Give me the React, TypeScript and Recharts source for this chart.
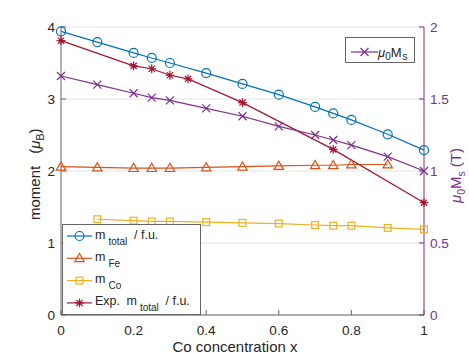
import React from 'react';
import { LineChart, Line, XAxis, YAxis, CartesianGrid, Legend } from 'recharts';

// ---- data ----
const xTotal = [0, 0.1, 0.2, 0.25, 0.3, 0.4, 0.5, 0.6, 0.7, 0.75, 0.8, 0.9, 1];
const mTotal = [3.94, 3.79, 3.64, 3.57, 3.5, 3.36, 3.21, 3.06, 2.89, 2.8, 2.71, 2.51, 2.29];

const xFe = [0, 0.1, 0.2, 0.25, 0.3, 0.4, 0.5, 0.6, 0.7, 0.75, 0.8, 0.9];
const mFe = [2.06, 2.05, 2.04, 2.04, 2.04, 2.05, 2.06, 2.07, 2.08, 2.08, 2.09, 2.09];

const xCo = [0.1, 0.2, 0.25, 0.3, 0.4, 0.5, 0.6, 0.7, 0.75, 0.8, 0.9, 1];
const mCo = [1.33, 1.31, 1.3, 1.3, 1.29, 1.28, 1.27, 1.25, 1.24, 1.24, 1.21, 1.19];

const xExp = [0, 0.2, 0.25, 0.3, 0.35, 0.5, 0.75, 1];
const mExp = [3.81, 3.46, 3.42, 3.33, 3.28, 2.95, 2.3, 1.56];

const xMs = [0, 0.1, 0.2, 0.25, 0.3, 0.4, 0.5, 0.6, 0.7, 0.75, 0.8, 0.9, 1];
const ms = [1.66, 1.6, 1.54, 1.51, 1.49, 1.435, 1.38, 1.31, 1.25, 1.215, 1.18, 1.1, 1.0];

const xTicks = [0, 0.2, 0.4, 0.6, 0.8, 1];
const leftTicks = [0, 1, 2, 3, 4];
const rightTicks = [0, 0.5, 1, 1.5, 2];

const xLabel = 'Co concentration x';

const pts = (xs: number[], ys: number[]) => xs.map((x, i) => ({ x, y: ys[i] }));
const dTotal = pts(xTotal, mTotal);
const dFe = pts(xFe, mFe);
const dCo = pts(xCo, mCo);
const dExp = pts(xExp, mExp);
const dMs = pts(xMs, ms);

// ---- style ----
const W = 469;
const H = 354;
const FONT = '"Liberation Sans", Arial, Helvetica, sans-serif';
const BLUE = '#0072BD';
const ORANGE = '#D95319';
const YELLOW = '#EDB120';
const PURPLE = '#7E2F8E';
const RED = '#A2142F';
const AX = '#666666';
const TXT = '#262626';
const LW = 1.2;

type MK = 'o' | '^' | 's' | '*' | 'x';

const Marker = ({ cx, cy, kind, color }: { cx: number; cy: number; kind: MK; color: string }) => {
  if (cx == null || cy == null) return null;
  if (kind === 'o') return <circle cx={cx} cy={cy} r={4.5} fill="none" stroke={color} strokeWidth={LW} />;
  if (kind === '^')
    return (
      <polygon
        points={`${cx},${cy - 4.8} ${cx - 4.7},${cy + 3.4} ${cx + 4.7},${cy + 3.4}`}
        fill="none"
        stroke={color}
        strokeWidth={LW}
      />
    );
  if (kind === 's')
    return <rect x={cx - 3.4} y={cy - 3.4} width={6.8} height={6.8} fill="none" stroke={color} strokeWidth={LW} />;
  if (kind === 'x') {
    const a = 4;
    return (
      <path d={`M${cx - a},${cy - a}L${cx + a},${cy + a}M${cx - a},${cy + a}L${cx + a},${cy - a}`} stroke={color} strokeWidth={LW} />
    );
  }
  const a = 4.4;
  const b = 3.1;
  return (
    <path
      d={`M${cx - a},${cy}L${cx + a},${cy}M${cx},${cy - a}L${cx},${cy + a}M${cx - b},${cy - b}L${cx + b},${cy + b}M${cx - b},${cy + b}L${cx + b},${cy - b}`}
      stroke={color}
      strokeWidth={LW}
    />
  );
};

const dotFor = (kind: MK, color: string) => (p: any) => (
  <Marker key={`m-${kind}-${p.index}`} cx={p.cx} cy={p.cy} kind={kind} color={color} />
);

// ---- axis labels ----
const LeftLabel = () => (
  <text transform="translate(39.5,220) rotate(-90)" x={0} y={0} textAnchor="start" fontSize={15} fill={TXT} fontFamily={FONT}>
    <tspan>moment</tspan>
    <tspan dx={12}>(</tspan>
    <tspan fontStyle="italic">μ</tspan>
    <tspan fontSize={10.5} dy={4}>B</tspan>
    <tspan dy={-4}>)</tspan>
  </text>
);

const RightLabel = () => (
  <text transform="translate(460.5,203) rotate(-90)" x={0} y={0} textAnchor="start" fontSize={15} fill={PURPLE} fontFamily={FONT}>
    <tspan fontStyle="italic">μ</tspan>
    <tspan fontSize={10.5} dy={4}>0</tspan>
    <tspan dy={-4}>M</tspan>
    <tspan fontSize={10.5} dy={4}>s</tspan>
    <tspan dy={-4} dx={4}>(T)</tspan>
  </text>
);

const BottomLabel = () => (
  <text x={235} y={352} textAnchor="middle" fontSize={15} fill={TXT} fontFamily={FONT}>
    {xLabel}
  </text>
);

// ---- legends ----
const legendRows: { kind: MK; color: string; pre: string; main: string; sub: string; post: string }[] = [
  { kind: 'o', color: BLUE, pre: '', main: 'm', sub: 'total', post: '/ f.u.' },
  { kind: '^', color: ORANGE, pre: '', main: 'm', sub: 'Fe', post: '' },
  { kind: 's', color: YELLOW, pre: '', main: 'm', sub: 'Co', post: '' },
  { kind: '*', color: RED, pre: 'Exp.', main: 'm', sub: 'total', post: '/ f.u.' },
];

const LegendOverlay = () => (
  <svg width={W} height={H} style={{ position: 'absolute', left: 0, top: 0, pointerEvents: 'none' }} fontFamily={FONT}>
    <rect x={62.5} y={224.5} width={138} height={90} fill="#ffffff" stroke={AX} strokeWidth={1} />
    {legendRows.map((r, i) => {
      const cy = 236 + i * 22.3;
      return (
        <g key={i}>
          <line x1={67} x2={92} y1={cy} y2={cy} stroke={r.color} strokeWidth={LW} />
          <Marker cx={79.5} cy={cy} kind={r.kind} color={r.color} />
          <text x={95} y={cy + 2.5} fontSize={12.5} fill={TXT}>
            {r.pre ? <tspan>{r.pre}</tspan> : null}
            <tspan dx={r.pre ? 6.5 : 0}>{r.main}</tspan>
            <tspan fontSize={10} dy={6} dx={3}>{r.sub}</tspan>
            {r.post ? (
              <tspan dy={-6} dx={6.7}>
                {r.post}
              </tspan>
            ) : null}
          </text>
        </g>
      );
    })}
    <rect x={345.5} y={37.5} width={69} height={25} fill="#ffffff" stroke={AX} strokeWidth={1} />
    <line x1={351} x2={378} y1={52} y2={52} stroke={PURPLE} strokeWidth={LW} />
    <Marker cx={364.5} cy={52} kind="x" color={PURPLE} />
    <text x={378} y={57} fontSize={13} fill={TXT}>
      <tspan fontStyle="italic">μ</tspan>
      <tspan fontSize={10} dy={2.5}>0</tspan>
      <tspan dy={-2.5}>M</tspan>
      <tspan fontSize={10} dy={2.5} dx={1}>s</tspan>
    </text>
  </svg>
);

export default function App() {
  return (
    <div style={{ position: 'absolute', left: 0, top: 0, width: W, height: H, background: '#fff' }}>
      <LineChart width={W} height={H} margin={{ top: 27, right: 0, bottom: 0, left: 0 }}>
        <CartesianGrid xAxisId="bottom" yAxisId="left" vertical={false} stroke="#e3e3e3" strokeWidth={1} />
        <XAxis
          xAxisId="bottom"
          type="number"
          dataKey="x"
          domain={[0, 1]}
          ticks={xTicks}
          height={39}
          tickSize={-5}
          tickMargin={15}
          axisLine={{ stroke: AX }}
          tickLine={{ stroke: AX }}
          tick={{ fill: TXT, fontSize: 13.6, fontFamily: FONT }}
          label={<BottomLabel />}
        />
        <XAxis
          xAxisId="top"
          orientation="top"
          type="number"
          dataKey="x"
          domain={[0, 1]}
          ticks={xTicks}
          height={0}
          tickSize={-5}
          tickMargin={0}
          axisLine={{ stroke: AX }}
          tickLine={{ stroke: AX }}
          tickFormatter={() => ''}
        />
        <YAxis
          yAxisId="left"
          orientation="left"
          type="number"
          domain={[0, 4]}
          ticks={leftTicks}
          width={61}
          tickSize={-5}
          tickMargin={11}
          axisLine={{ stroke: AX }}
          tickLine={{ stroke: AX }}
          tick={{ fill: TXT, fontSize: 13.6, fontFamily: FONT }}
          label={<LeftLabel />}
        />
        <YAxis
          yAxisId="right"
          orientation="right"
          type="number"
          domain={[0, 2]}
          ticks={rightTicks}
          width={45}
          tickSize={-5}
          tickMargin={11}
          axisLine={{ stroke: PURPLE }}
          tickLine={{ stroke: PURPLE }}
          tick={{ fill: PURPLE, fontSize: 13.6, fontFamily: FONT }}
          label={<RightLabel />}
        />
        <Line xAxisId="bottom" yAxisId="left" data={dTotal} dataKey="y" stroke={BLUE} strokeWidth={LW} dot={dotFor('o', BLUE)} isAnimationActive={false} legendType="none" />
        <Line xAxisId="bottom" yAxisId="left" data={dFe} dataKey="y" stroke={ORANGE} strokeWidth={LW} dot={dotFor('^', ORANGE)} isAnimationActive={false} legendType="none" />
        <Line xAxisId="bottom" yAxisId="left" data={dCo} dataKey="y" stroke={YELLOW} strokeWidth={LW} dot={dotFor('s', YELLOW)} isAnimationActive={false} legendType="none" />
        <Line xAxisId="bottom" yAxisId="left" data={dExp} dataKey="y" stroke={RED} strokeWidth={LW} dot={dotFor('*', RED)} isAnimationActive={false} legendType="none" />
        <Line xAxisId="bottom" yAxisId="right" data={dMs} dataKey="y" stroke={PURPLE} strokeWidth={LW} dot={dotFor('x', PURPLE)} isAnimationActive={false} legendType="none" />
        <Legend
          layout="horizontal"
          align="center"
          verticalAlign="middle"
          content={() => <LegendOverlay />}
          wrapperStyle={{ left: 0, top: 0, width: W, height: H, margin: 0, padding: 0, pointerEvents: 'none' }}
        />
      </LineChart>
    </div>
  );
}
